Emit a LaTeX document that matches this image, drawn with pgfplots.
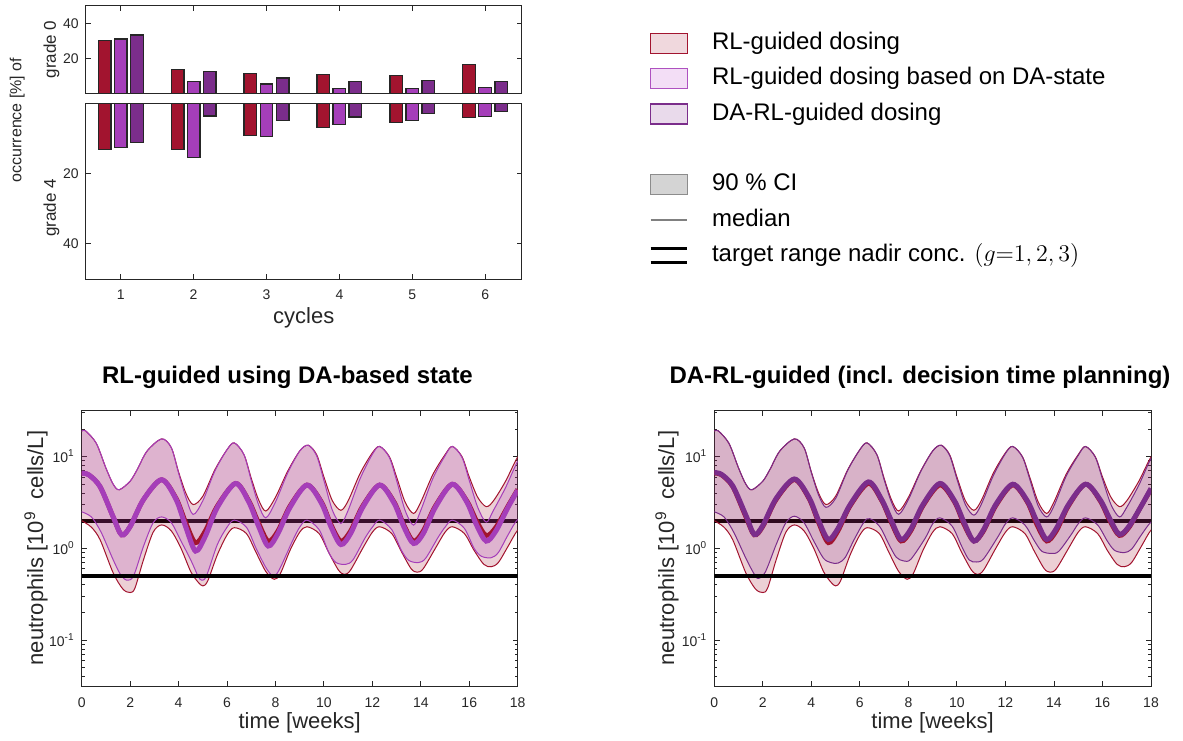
\documentclass[border=0pt]{standalone}
\usepackage{fontspec}
\setmainfont{Liberation Sans}
\usepackage{pgfplots}
\pgfplotsset{compat=1.18}
\usepackage{pgfplotstable}

\definecolor{cred}{RGB}{162,20,47}
\definecolor{cmag}{RGB}{165,62,185}
\definecolor{cpur}{RGB}{123,45,139}
\definecolor{frame}{RGB}{38,38,38}
\definecolor{lgred}{RGB}{240,216,221}
\definecolor{lgmag}{RGB}{243,222,246}
\definecolor{lgpur}{RGB}{233,218,235}
\definecolor{lgci}{RGB}{212,212,212}
\definecolor{lgciedge}{RGB}{140,140,140}
\definecolor{lgmed}{RGB}{128,128,128}

% 90% CI band of RL-guided dosing: upper bound forward, lower bound backward
\pgfplotstableread{
t v
0 18.9
0.15 19.2
0.6 14.0
1.0 7.5
1.3 5.0
1.55 4.35
2.0 5.4
2.3 7.3
2.7 11.5
3.3 15.6
3.7 12.5
4.0 6.8
4.3 4.0
4.6 3.0
5.0 3.7
5.5 7.2
6.0 11.9
6.3 14.1
6.7 10.5
7.0 5.8
7.3 3.4
7.6 2.55
8.0 3.6
8.5 6.9
9.0 11.5
9.35 13.3
9.7 10.5
10.0 6.0
10.35 3.3
10.7 2.6
11.0 3.3
11.5 6.6
12.0 11.0
12.3 12.9
12.7 10.0
13.0 6.0
13.35 3.2
13.7 2.4
14.0 3.2
14.5 6.4
15.0 10.5
15.3 12.9
15.7 10.0
16.0 6.0
16.35 3.6
16.7 2.85
17.0 3.3
17.5 5.4
18 9.9
18.4 12.8
18.4 1.85
18 1.58
17.6 1.05
17.2 0.7
16.9 0.63
16.6 0.67
16.2 0.95
15.8 1.45
15.3 1.72
15.0 1.5
14.6 1.0
14.1 0.6
13.85 0.55
13.6 0.6
13.2 0.92
12.8 1.45
12.3 1.72
12.0 1.5
11.6 1.0
11.1 0.58
10.85 0.52
10.6 0.58
10.2 0.9
9.8 1.45
9.3 1.72
9.0 1.5
8.6 0.95
8.2 0.53
7.95 0.46
7.6 0.56
7.2 0.9
6.8 1.45
6.3 1.68
6.0 1.4
5.6 0.85
5.2 0.44
5.0 0.39
4.8 0.43
4.5 0.56
4.1 1.0
3.7 1.55
3.3 1.8
2.95 1.5
2.55 0.75
2.2 0.37
2.0 0.33
1.7 0.36
1.3 0.54
0.76 1.24
0.4 1.7
0 2.0
}\RB

% 90% CI band of RL-guided dosing based on DA-state
\pgfplotstableread{
t v
0 18.9
0.15 19.2
0.6 14.0
1.0 7.5
1.3 5.0
1.55 4.35
2.0 5.4
2.3 7.3
2.7 11.5
3.3 15.6
3.7 12.5
4.0 6.6
4.3 3.6
4.6 2.34
5.0 3.3
5.5 7.0
6.0 11.9
6.3 14.1
6.7 10.5
7.0 5.5
7.3 3.0
7.6 2.15
8.0 3.2
8.5 6.6
9.0 11.5
9.35 13.3
9.7 10.2
10.0 5.5
10.35 2.6
10.7 1.87
11.0 2.6
11.5 5.8
12.0 10.6
12.3 12.9
12.7 9.8
13.0 5.5
13.35 2.6
13.7 1.79
14.0 2.6
14.5 5.8
15.0 10.2
15.3 12.9
15.7 9.8
16.0 5.5
16.35 2.8
16.7 1.93
17.0 2.6
17.5 4.6
18 8.9
18.4 12.0
18.4 2.2
18 2.07
17.6 1.4
17.2 0.9
16.9 0.79
16.5 0.82
16.2 1.0
15.8 1.65
15.3 2.03
15.0 1.7
14.7 1.3
14.2 0.78
13.9 0.7
13.5 0.74
13.2 0.95
12.8 1.6
12.3 2.03
12.0 1.7
11.7 1.3
11.2 0.75
10.9 0.67
10.5 0.7
10.2 0.9
9.8 1.6
9.3 2.03
9.0 1.7
8.7 1.2
8.15 0.58
7.9 0.5
7.6 0.62
7.2 1.0
6.8 1.7
6.3 2.03
6.0 1.7
5.6 1.1
5.15 0.5
4.95 0.45
4.8 0.5
4.5 0.75
4.1 1.2
3.7 1.9
3.3 2.2
2.95 1.9
2.55 1.05
2.14 0.5
1.86 0.45
1.6 0.52
1.3 0.75
0.8 1.5
0.4 2.2
0 2.5
}\MB

% 90% CI band of DA-RL-guided dosing
\pgfplotstableread{
t v
0 18.9
0.15 19.2
0.6 14.0
1.0 7.5
1.3 5.0
1.55 4.35
2.0 5.4
2.3 7.3
2.7 11.5
3.3 15.6
3.7 12.5
4.0 6.7
4.3 3.8
4.6 2.8
5.0 3.5
5.5 7.1
6.0 11.9
6.3 14.1
6.7 10.5
7.0 5.6
7.3 3.2
7.6 2.35
8.0 3.4
8.5 6.8
9.0 11.5
9.35 13.3
9.7 10.3
10.0 5.7
10.35 3.0
10.7 2.3
11.0 3.0
11.5 6.2
12.0 10.8
12.3 12.9
12.7 9.9
13.0 5.7
13.35 2.9
13.7 2.2
14.0 2.9
14.5 6.1
15.0 10.3
15.3 12.9
15.7 9.9
16.0 5.7
16.35 3.0
16.7 2.2
17.0 2.8
17.5 4.9
18 9.5
18.4 12.5
18.4 2.1
18 1.93
17.6 1.4
17.2 0.98
16.9 0.9
16.5 0.95
16.2 1.2
15.8 1.8
15.3 2.15
15.0 1.85
14.7 1.4
14.2 0.93
13.9 0.88
13.5 0.93
13.2 1.2
12.8 1.8
12.3 2.15
12.0 1.85
11.7 1.35
11.1 0.77
10.8 0.71
10.5 0.75
10.2 1.05
9.8 1.75
9.3 2.15
9.0 1.85
8.7 1.3
8.1 0.76
7.8 0.73
7.5 0.8
7.2 1.1
6.8 1.75
6.3 2.1
5.8 1.3
5.4 0.8
5.1 0.69
4.8 0.7
4.5 0.78
4.1 1.2
3.7 1.9
3.3 2.24
2.95 1.9
2.55 1.1
2.1 0.55
1.8 0.47
1.6 0.55
1.3 0.78
0.8 1.5
0.4 2.2
0 2.5
}\PB

\pgfplotstableread{
t v
0 6.6
0.3 6.3
0.76 4.7
1.3 2.2
1.65 1.4
2.0 1.73
2.55 3.4
3.3 5.6
3.9 3.5
4.3 1.9
4.7 1.15
5.1 1.55
5.6 2.9
6.35 5.1
6.9 3.3
7.3 1.9
7.7 1.2
8.1 1.55
8.6 2.9
9.3 4.9
9.9 3.2
10.3 1.8
10.7 1.2
11.1 1.55
11.6 2.9
12.3 4.9
12.9 3.2
13.3 1.8
13.7 1.2
14.1 1.55
14.6 2.9
15.3 5.0
15.9 3.3
16.3 2.0
16.7 1.38
17.1 1.7
17.6 2.9
18 4.4
}\RM

\pgfplotstableread{
t v
0 6.6
0.3 6.3
0.76 4.7
1.3 2.2
1.65 1.4
2.0 1.73
2.55 3.4
3.3 5.6
3.9 3.4
4.3 1.7
4.7 0.935
5.1 1.35
5.6 2.8
6.35 5.1
6.9 3.2
7.3 1.75
7.7 1.06
8.1 1.45
8.6 2.8
9.3 4.9
9.9 3.1
10.3 1.7
10.7 1.1
11.1 1.45
11.6 2.8
12.3 4.9
12.9 3.1
13.3 1.72
13.7 1.13
14.1 1.45
14.6 2.8
15.3 5.0
15.9 3.2
16.3 1.8
16.7 1.2
17.1 1.55
17.6 2.8
18 4.3
}\MM

\pgfplotstableread{
t v
0 6.7
0.3 6.4
0.76 4.8
1.3 2.3
1.65 1.42
2.0 1.78
2.55 3.5
3.3 5.7
3.9 3.6
4.3 2.0
4.7 1.25
5.1 1.65
5.6 3.0
6.35 5.3
6.9 3.4
7.3 2.0
7.7 1.25
8.1 1.62
8.6 3.0
9.3 5.1
9.9 3.3
10.3 1.9
10.7 1.2
11.1 1.6
11.6 3.0
12.3 5.0
12.9 3.3
13.3 1.95
13.7 1.25
14.1 1.65
14.6 3.0
15.3 5.0
15.9 3.4
16.3 2.1
16.7 1.42
17.1 1.75
17.6 2.9
18 4.5
}\PM

\pgfplotsset{
  myax/.style={scale only axis, anchor=south west,
    axis line style={draw=frame, line width=0.5pt},
    tick style={draw=frame, line width=0.45pt},
    major tick length=2.6pt, minor tick length=1.5pt,
    tick label style={font=\fontsize{7}{8}\selectfont, text=frame},
    /pgf/number format/assume math mode=true, tick align=inside},
  barst/.style={ybar, bar width=0.175, draw=black!85, line width=0.6pt},
}

\begin{document}
\begin{tikzpicture}
\useasboundingbox (0,0) rectangle (591.5pt,370pt);

% ---------- bar chart: grade 0 ----------
\begin{axis}[myax, at={(42.85pt,323.3pt)}, width=218pt, height=43.85pt,
  xmin=0.52, xmax=6.5, ymin=0, ymax=50, xtick={1,...,6}, xticklabels={},
  ytick={20,40}]
\addplot[barst, fill=cred, bar shift=-0.22] coordinates {(1,30.3)(2,13.7)(3,11.4)(4,10.9)(5,10.1)(6,16.6)};
\addplot[barst, fill=cmag, bar shift=0] coordinates {(1,31)(2,6.9)(3,5.3)(4,2.9)(5,2.9)(6,3.4)};
\addplot[barst, fill=cpur, bar shift=0.22] coordinates {(1,33.3)(2,12.4)(3,8.8)(4,6.9)(5,7.2)(6,6.9)};
\end{axis}

% ---------- bar chart: grade 4 ----------
\begin{axis}[myax, at={(42.85pt,230.5pt)}, width=218pt, height=87.8pt,
  xmin=0.52, xmax=6.5, ymin=0, ymax=50, y dir=reverse, xtick={1,...,6},
  ytick={20,40}, xticklabel style={yshift=-1.7pt}]
\addplot[barst, fill=cred, bar shift=-0.22] coordinates {(1,13.1)(2,13.1)(3,9.2)(4,6.9)(5,5.4)(6,4.1)};
\addplot[barst, fill=cmag, bar shift=0] coordinates {(1,12.5)(2,15.4)(3,9.4)(4,6.1)(5,4.8)(6,3.8)};
\addplot[barst, fill=cpur, bar shift=0.22] coordinates {(1,11.1)(2,3.6)(3,4.8)(4,3.9)(5,2.9)(6,2.4)};
\end{axis}

\node[rotate=90, font=\fontsize{8}{10}\selectfont, text=frame] at (8.6pt,310pt) {occurrence [\%] of};
\node[rotate=90, font=\fontsize{8.5}{10}\selectfont, text=frame] at (25.8pt,345.2pt) {grade 0};
\node[rotate=90, font=\fontsize{8.5}{10}\selectfont, text=frame] at (25.8pt,266pt) {grade 4};
\node[font=\fontsize{11}{13}\selectfont, text=frame] at (151.85pt,211.2pt) {cycles};

% ---------- legend ----------
\begin{axis}[hide axis, scale only axis, width=1pt, height=1pt, xmin=0, xmax=1, ymin=0, ymax=1,
  at={(324.5pt,357.3pt)}, anchor=north west,
  legend style={at={(0,1)}, anchor=north west, draw=none, fill=none, inner sep=0pt, outer sep=0pt,
    row sep=0pt, cells={anchor=west},
    nodes={font=\fontsize{12}{14}\selectfont, text height=9.2pt, text depth=3pt, inner sep=2.75pt}}]
\addlegendimage{legend image code/.code={\draw[fill=lgred, draw=cred, line width=0.6pt] (0pt,-5pt) rectangle (18.3pt,5pt); \path[draw=none, fill=none] (0pt,0pt) -- (28pt,0pt);}}
\addlegendentry{RL-guided dosing}
\addlegendimage{legend image code/.code={\draw[fill=lgmag, draw=cmag!90, line width=0.6pt] (0pt,-5pt) rectangle (18.3pt,5pt); \path[draw=none, fill=none] (0pt,0pt) -- (28pt,0pt);}}
\addlegendentry{RL-guided dosing based on DA-state}
\addlegendimage{legend image code/.code={\draw[fill=lgpur, draw=cpur, line width=0.6pt] (0pt,-5pt) rectangle (18.3pt,5pt); \path[draw=none, fill=none] (0pt,0pt) -- (28pt,0pt);}}
\addlegendentry{DA-RL-guided dosing}
\addlegendimage{empty legend}
\addlegendentry{}
\addlegendimage{legend image code/.code={\draw[fill=lgci, draw=lgciedge, line width=0.6pt] (0pt,-5pt) rectangle (18.3pt,5pt); \path[draw=none, fill=none] (0pt,0pt) -- (28pt,0pt);}}
\addlegendentry{90 \% CI}
\addlegendimage{legend image code/.code={\draw[draw=lgmed, line width=1.3pt] (0pt,0pt) -- (18.3pt,0pt); \path[draw=none, fill=none] (0pt,0pt) -- (28pt,0pt);}}
\addlegendentry{median}
\addlegendimage{legend image code/.code={\draw[draw=black, line width=1.5pt] (0pt,3.3pt) -- (18.3pt,3.3pt); \draw[draw=black, line width=1.5pt] (0pt,-3.3pt) -- (18.3pt,-3.3pt); \path[draw=none, fill=none] (0pt,0pt) -- (28pt,0pt);}}
\addlegendentry{target range nadir conc. $(g{=}1,2,3)$}
\end{axis}

% ---------- bottom left ----------
\begin{axis}[myax, ymode=log, at={(40.85pt,27pt)}, width=218pt, height=137.65pt,
  xmin=0, xmax=18, ymin=0.0316228, ymax=31.6228, xtick={0,2,...,18},
  ytick={0.1,1,10},
  yticklabels={10\textsuperscript{-1},10\textsuperscript{0},10\textsuperscript{1}},
  minor ytick={0.04,0.05,0.06,0.07,0.08,0.09,0.2,0.3,0.4,0.5,0.6,0.7,0.8,0.9,2,3,4,5,6,7,8,9,20,30},
  xticklabel style={yshift=-2.2pt}]
\addplot[black, line width=2pt] coordinates {(0,2) (18,2)};
\addplot[fill=cred, fill opacity=0.2, draw=cred, line width=0.5pt, smooth] table[x=t,y=v] {\RB};
\addplot[fill=cmag, fill opacity=0.2, draw=cmag, line width=0.5pt, smooth] table[x=t,y=v] {\MB};
\addplot[cred, line width=2.3pt, smooth] table[x=t,y=v] {\RM};
\addplot[cmag, line width=2.5pt, smooth] table[x=t,y=v] {\MM};
\addplot[black, line width=2pt] coordinates {(0,0.5) (18,0.5)};
\end{axis}

% ---------- bottom right ----------
\begin{axis}[myax, ymode=log, at={(357.15pt,27pt)}, width=218.35pt, height=137.65pt,
  xmin=0, xmax=18, ymin=0.0316228, ymax=31.6228, xtick={0,2,...,18},
  ytick={0.1,1,10},
  yticklabels={10\textsuperscript{-1},10\textsuperscript{0},10\textsuperscript{1}},
  minor ytick={0.04,0.05,0.06,0.07,0.08,0.09,0.2,0.3,0.4,0.5,0.6,0.7,0.8,0.9,2,3,4,5,6,7,8,9,20,30},
  xticklabel style={yshift=-2.2pt}]
\addplot[black, line width=2pt] coordinates {(0,2) (18,2)};
\addplot[fill=cred, fill opacity=0.2, draw=cred, line width=0.5pt, smooth] table[x=t,y=v] {\RB};
\addplot[fill=cpur, fill opacity=0.18, draw=cpur, line width=0.5pt, smooth] table[x=t,y=v] {\PB};
\addplot[cred, line width=2.3pt, smooth] table[x=t,y=v] {\RM};
\addplot[cpur, line width=2.5pt, smooth] table[x=t,y=v] {\PM};
\addplot[black, line width=2pt] coordinates {(0,0.5) (18,0.5)};
\end{axis}

% ---------- labels of the bottom plots ----------
\node[font=\bfseries\fontsize{12}{14}\selectfont] at (143.75pt,181.5pt) {RL-guided using DA-based state};
\node[font=\bfseries\fontsize{12}{14}\selectfont] at (460pt,181.5pt) {DA-RL-guided (incl. decision time planning)};
\node[rotate=90, font=\fontsize{11}{13}\selectfont, text=frame] at (18pt,96pt) {neutrophils [10\textsuperscript{9}\ \ cells/L]};
\node[rotate=90, font=\fontsize{11}{13}\selectfont, text=frame] at (333.5pt,96pt) {neutrophils [10\textsuperscript{9}\ \ cells/L]};
\node[font=\fontsize{11}{13}\selectfont, text=frame] at (149.85pt,8.5pt) {time [weeks]};
\node[font=\fontsize{11}{13}\selectfont, text=frame] at (466.3pt,8.5pt) {time [weeks]};
\end{tikzpicture}
\end{document}
